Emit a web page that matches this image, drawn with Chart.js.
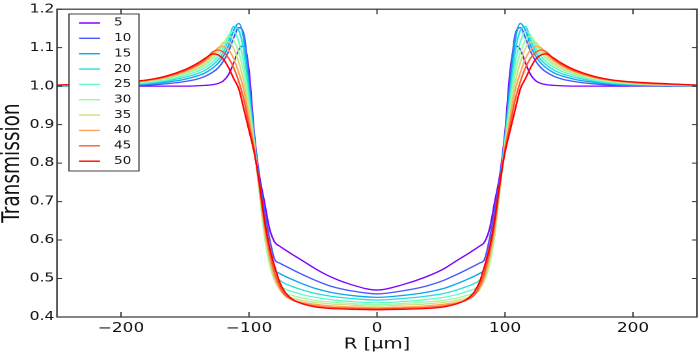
<!DOCTYPE html>
<html><head><meta charset="utf-8">
<script src="https://cdn.jsdelivr.net/npm/chart.js@4.4.0/dist/chart.umd.min.js"></script>
<style>
html,body{margin:0;padding:0;background:#fff;overflow:hidden;}
#wrap{position:absolute;left:0;top:0;width:538px;height:356px;transform:scaleX(1.30112);transform-origin:0 0;}
</style></head><body>
<div id="wrap"><canvas id="c" width="538" height="356"></canvas></div>
<script>
// Radius positions (µm)
const R = [-250,-225,-200,-180,-165,-150,-140,-134,-128,-124,-120,-116,-112,-108,-104,-100,-96,-92,-88,-84,-80,-76,-72,-66,-58,-48,-36,-20,0,
  20,38,52,62,70,76,80,84,88,92,96,100,104,108,112,116,120,124,128,132,138,144,154,169,184,204,229,250];

const s5 = [1.000,1.000,1.000,1.000,1.000,1.000,1.001,1.002,1.004,1.007,1.014,1.030,1.060,1.095,1.105,1.040,0.880,0.770,0.700,0.630,0.595,0.584,0.575,0.562,0.546,0.525,0.504,0.484,0.470,
  0.484,0.504,0.525,0.546,0.562,0.575,0.584,0.595,0.630,0.700,0.770,0.880,1.040,1.105,1.095,1.060,1.030,1.014,1.007,1.004,1.002,1.001,1.000,1.000,1.000,1.000,1.000,1.000];
const s10 = [1.000,1.000,1.001,1.003,1.006,1.012,1.019,1.026,1.037,1.048,1.065,1.090,1.125,1.152,1.135,1.020,0.870,0.760,0.680,0.605,0.550,0.540,0.533,0.523,0.510,0.495,0.480,0.468,0.460,
  0.468,0.480,0.495,0.510,0.523,0.533,0.540,0.550,0.605,0.680,0.760,0.870,1.020,1.135,1.152,1.125,1.090,1.065,1.048,1.037,1.026,1.019,1.012,1.006,1.003,1.001,1.000,1.000];
const s15 = [1.000,1.001,1.002,1.005,1.010,1.018,1.027,1.035,1.048,1.060,1.078,1.105,1.145,1.163,1.120,1.000,0.865,0.750,0.655,0.575,0.525,0.513,0.506,0.497,0.486,0.474,0.464,0.456,0.451,
  0.456,0.464,0.474,0.486,0.497,0.506,0.513,0.525,0.575,0.655,0.750,0.865,1.000,1.120,1.163,1.145,1.105,1.078,1.060,1.048,1.035,1.027,1.018,1.010,1.005,1.002,1.001,1.000];
const s20 = [1.000,1.002,1.004,1.007,1.013,1.023,1.033,1.042,1.056,1.069,1.089,1.120,1.155,1.145,1.090,0.980,0.860,0.735,0.625,0.550,0.508,0.495,0.487,0.479,0.470,0.461,0.454,0.448,0.444,
  0.448,0.454,0.461,0.470,0.479,0.487,0.495,0.508,0.550,0.625,0.735,0.860,0.980,1.090,1.145,1.155,1.120,1.089,1.069,1.056,1.042,1.033,1.023,1.013,1.007,1.004,1.002,1.000];
const s25 = [1.001,1.002,1.005,1.009,1.016,1.028,1.039,1.049,1.064,1.079,1.100,1.132,1.142,1.115,1.060,0.960,0.855,0.730,0.615,0.540,0.497,0.481,0.473,0.466,0.458,0.451,0.445,0.440,0.437,
  0.440,0.445,0.451,0.458,0.466,0.473,0.481,0.497,0.540,0.615,0.730,0.855,0.960,1.060,1.115,1.142,1.132,1.100,1.079,1.064,1.049,1.039,1.028,1.016,1.009,1.005,1.002,1.001];
const s30 = [1.001,1.003,1.006,1.011,1.019,1.032,1.044,1.055,1.072,1.088,1.110,1.130,1.120,1.087,1.035,0.945,0.850,0.730,0.615,0.540,0.495,0.473,0.462,0.456,0.449,0.443,0.439,0.435,0.432,
  0.435,0.439,0.443,0.449,0.456,0.462,0.473,0.495,0.540,0.615,0.730,0.850,0.945,1.035,1.087,1.120,1.130,1.110,1.088,1.072,1.055,1.044,1.032,1.019,1.011,1.006,1.003,1.001];
const s35 = [1.001,1.003,1.007,1.013,1.021,1.035,1.048,1.060,1.079,1.096,1.114,1.115,1.098,1.062,1.010,0.930,0.845,0.735,0.625,0.548,0.498,0.471,0.457,0.449,0.443,0.438,0.434,0.431,0.428,
  0.431,0.434,0.438,0.443,0.449,0.457,0.471,0.498,0.548,0.625,0.735,0.845,0.930,1.010,1.062,1.098,1.115,1.114,1.096,1.079,1.060,1.048,1.035,1.021,1.013,1.007,1.003,1.001];
const s40 = [1.002,1.004,1.008,1.014,1.023,1.038,1.053,1.066,1.085,1.100,1.103,1.094,1.072,1.035,0.990,0.915,0.840,0.740,0.635,0.558,0.505,0.474,0.456,0.445,0.438,0.433,0.429,0.426,0.424,
  0.426,0.429,0.433,0.438,0.445,0.456,0.474,0.505,0.558,0.635,0.740,0.840,0.915,0.990,1.035,1.072,1.094,1.103,1.100,1.085,1.066,1.053,1.038,1.023,1.014,1.008,1.004,1.002];
const s45 = [1.002,1.005,1.009,1.015,1.024,1.040,1.056,1.070,1.090,1.094,1.088,1.073,1.048,1.012,0.965,0.900,0.835,0.745,0.645,0.570,0.515,0.480,0.458,0.444,0.435,0.429,0.425,0.423,0.4215,
  0.423,0.425,0.429,0.435,0.444,0.458,0.480,0.515,0.570,0.645,0.745,0.835,0.900,0.965,1.012,1.048,1.073,1.088,1.094,1.090,1.070,1.056,1.040,1.024,1.015,1.009,1.005,1.002];
const s50 = [1.003,1.006,1.010,1.016,1.026,1.043,1.060,1.073,1.084,1.081,1.070,1.048,1.020,0.993,0.940,0.885,0.828,0.750,0.655,0.582,0.532,0.490,0.465,0.446,0.434,0.426,0.422,0.420,0.419,
  0.420,0.422,0.426,0.434,0.446,0.465,0.490,0.532,0.582,0.655,0.750,0.828,0.885,0.940,0.993,1.020,1.048,1.070,1.081,1.084,1.073,1.060,1.043,1.026,1.016,1.010,1.006,1.003];

const seriesLabels = ['5','10','15','20','25','30','35','40','45','50'];
const seriesValues = [s5,s10,s15,s20,s25,s30,s35,s40,s45,s50];
const seriesColors = ['rgb(128,0,255)','rgb(71,87,251)','rgb(14,164,240)','rgb(42,221,221)','rgb(99,251,195)',
  'rgb(156,251,164)','rgb(212,221,128)','rgb(255,164,87)','rgb(255,87,44)','rgb(255,0,0)'];
const xTicks = [-200,-100,0,100,200];
const yTicks = [0.4,0.5,0.6,0.7,0.8,0.9,1.0,1.1,1.2];

const SX = 700/538;
const FONT = "'DejaVu Sans', 'Liberation Sans', sans-serif";

const framePlugin = {
  id:'frame',
  afterDatasetsDraw(chart){
    const {ctx, chartArea:a, scales:{x,y}} = chart;
    ctx.save();
    ctx.strokeStyle = '#333';
    ctx.lineWidth = 1.2;
    ctx.strokeRect(a.left, a.top, a.right-a.left, a.bottom-a.top);
    ctx.lineWidth = 1;
    const tl = 5, tlx = 5/SX;
    ctx.beginPath();
    xTicks.forEach(v=>{
      const p = x.getPixelForValue(v);
      ctx.moveTo(p, a.bottom); ctx.lineTo(p, a.bottom-tl);
      ctx.moveTo(p, a.top); ctx.lineTo(p, a.top+tl);
    });
    yTicks.forEach(v=>{
      const p = y.getPixelForValue(v);
      ctx.moveTo(a.left, p); ctx.lineTo(a.left+tlx, p);
      ctx.moveTo(a.right, p); ctx.lineTo(a.right-tlx, p);
    });
    ctx.stroke();
    ctx.restore();
  }
};

const legendPlugin = {
  id:'boxLegend',
  afterDraw(chart){
    const ctx = chart.ctx;
    const bx = 53, by = 14, bw = 53.8, bh = 157;
    ctx.save();
    ctx.fillStyle = '#fff';
    ctx.fillRect(bx, by, bw, bh);
    ctx.strokeStyle = '#444';
    ctx.lineWidth = 1;
    ctx.strokeRect(bx, by, bw, bh);
    ctx.font = "10.5px " + FONT;
    ctx.textBaseline = 'middle';
    ctx.textAlign = 'left';
    chart.data.datasets.forEach((ds,i)=>{
      const yy = 23 + i*15.35;
      ctx.strokeStyle = ds.borderColor;
      ctx.lineWidth = 1.4;
      ctx.beginPath(); ctx.moveTo(60.7, yy); ctx.lineTo(76.9, yy); ctx.stroke();
      ctx.fillStyle = '#111';
      ctx.fillText(ds.label, 87.6, yy);
    });
    ctx.restore();
  }
};

new Chart(document.getElementById('c'), {
  type:'line',
  data:{
    datasets: seriesValues.map((vals,i)=>({
      label: seriesLabels[i],
      data: R.map((r,j)=>({x:r, y:vals[j]})),
      borderColor: seriesColors[i],
      backgroundColor: seriesColors[i],
      borderWidth: 1.3,
      pointRadius: 0,
      fill: false,
      cubicInterpolationMode: 'monotone',
      order: seriesValues.length-1-i
    }))
  },
  options:{
    responsive:false,
    animation:false,
    devicePixelRatio: 2,
    layout:{padding:{left:0,right:2.3,top:8,bottom:0}},
    plugins:{legend:{display:false}, tooltip:{enabled:false}},
    scales:{
      x:{
        type:'linear', min:-250, max:250,
        afterBuildTicks:(s)=>{ s.ticks = xTicks.map(v=>({value:v})); },
        afterFit:(s)=>{ s.height = 39; },
        grid:{display:false, drawTicks:false},
        border:{display:false},
        ticks:{font:{family:FONT,size:13}, color:'#111', padding:4, maxRotation:0, autoSkip:false,
          callback:(v)=> v<0 ? '\u2212'+Math.abs(v) : String(v)},
        title:{display:true, text:'R [\u03bcm]', color:'#111', font:{family:FONT,size:15,lineHeight:1}, padding:{top:0,bottom:4}}
      },
      y:{
        type:'linear', min:0.4, max:1.2,
        afterBuildTicks:(s)=>{ s.ticks = yTicks.map(v=>({value:v})); },
        afterFit:(s)=>{ s.width = 43.8; },
        grid:{display:false, drawTicks:false},
        border:{display:false},
        ticks:{font:{family:FONT,size:12}, color:'#111', padding:2,
          callback:(v)=> Number(v).toFixed(1)},
        title:{display:true, text:'Transmission', color:'#111', font:{family:FONT,size:18.5,lineHeight:1}, padding:{top:0.5,bottom:0}}
      }
    }
  },
  plugins:[framePlugin, legendPlugin]
});
</script>
</body></html>
